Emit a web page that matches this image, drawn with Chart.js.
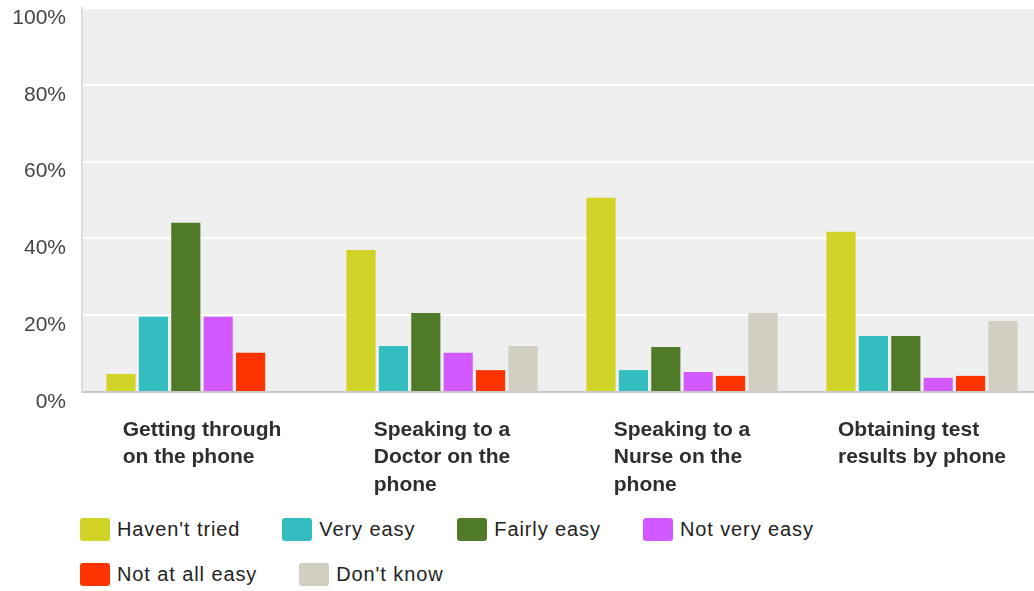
<!DOCTYPE html>
<html>
<head>
<meta charset="utf-8">
<script src="https://cdn.jsdelivr.net/npm/chart.js@4/dist/chart.umd.min.js"></script>
<style>
    html, body { margin: 0; padding: 0; background: #fff; overflow: hidden; }
    #wrap { position: relative; width: 1042px; height: 505px; }
    #legend {
        position: absolute; left: 80px; top: 518px; width: 860px;
        display: flex; flex-wrap: wrap; row-gap: 22px;
        font-family: "Liberation Sans", Arial, sans-serif; font-size: 20px;
        letter-spacing: 0.9px; color: #222;
    }
    .item { display: flex; align-items: center; margin-right: 42px; height: 23px; }
    .box { width: 30px; height: 23px; border-radius: 3px; margin-right: 7px; }
</style>
</head>
<body>
<div id="wrap"><canvas id="chart"></canvas></div>
<div id="legend"></div>
<script>
const categories = [
    ['Getting through', 'on the phone'],
    ['Speaking to a', 'Doctor on the', 'phone'],
    ['Speaking to a', 'Nurse on the', 'phone'],
    ['Obtaining test', 'results by phone']
];
const seriesNames = ["Haven't tried", 'Very easy', 'Fairly easy', 'Not very easy', 'Not at all easy', "Don't know"];
const seriesColors = ['#d1d426', '#33bdc0', '#507c2a', '#d258ff', '#ff3300', '#d0cfc2'];

const havenTried = [4.7, 37.0, 50.6, 41.7];
const veryEasy = [19.6, 12.0, 5.7, 14.6];
const fairlyEasy = [44.1, 20.6, 11.7, 14.6];
const notVeryEasy = [19.6, 10.2, 5.2, 3.7];
const notAtAllEasy = [10.2, 5.7, 4.2, 4.2];
const dontKnow = [0, 12.0, 20.6, 18.5];

const yTicks = [0, 20, 40, 60, 80, 100];

const seriesData = [havenTried, veryEasy, fairlyEasy, notVeryEasy, notAtAllEasy, dontKnow];

// grey plot background
const plotBg = {
    id: 'plotBg',
    beforeDraw(chart) {
        const { ctx, chartArea: a } = chart;
        ctx.save();
        ctx.fillStyle = '#efefef';
        ctx.fillRect(a.left, a.top, a.right - a.left, a.bottom - a.top);
        ctx.restore();
    }
};

// category labels: left aligned blocks centred on each category
const blockLabels = {
    id: 'blockLabels',
    afterDraw(chart) {
        const { ctx } = chart;
        const x = chart.scales.x;
        ctx.save();
        ctx.font = 'bold 21px "Liberation Sans", Arial, sans-serif';
        ctx.fillStyle = '#2e2e2e';
        ctx.textBaseline = 'middle';
        ctx.textAlign = 'left';
        categories.forEach((lines, i) => {
            const cx = x.getPixelForValue(i);
            const w = Math.max(...lines.map(l => ctx.measureText(l).width));
            lines.forEach((l, k) => {
                ctx.fillText(l, cx - w / 2, x.top + 38 + k * 27.5);
            });
        });
        ctx.restore();
    }
};

new Chart(document.getElementById('chart'), {
    type: 'bar',
    data: {
        labels: categories.map(c => c.join(' ')),
        datasets: seriesNames.map((name, i) => ({
            label: name,
            data: seriesData[i],
            backgroundColor: seriesColors[i],
            barPercentage: 0.9,
            categoryPercentage: 0.81
        }))
    },
    options: {
        responsive: true,
        maintainAspectRatio: false,
        animation: false,
        layout: { padding: { top: 8, right: 0, left: 0, bottom: 0 } },
        plugins: {
            legend: { display: false },
            tooltip: { enabled: false }
        },
        scales: {
            x: {
                grid: { display: false },
                border: { color: '#c8c8c8', width: 2 },
                ticks: { display: false },
                afterFit(scale) { scale.height = 113; scale.paddingLeft = 0; scale.paddingRight = 0; }
            },
            y: {
                min: 0,
                max: 100,
                afterBuildTicks(scale) { scale.ticks = yTicks.map(v => ({ value: v })); },
                afterFit(scale) { scale.width = 82; scale.paddingTop = 0; scale.paddingBottom = 0; },
                grid: { color: '#ffffff', lineWidth: 2, drawTicks: false },
                border: { color: '#dddddd', width: 2 },
                ticks: {
                    padding: 16,
                    labelOffset: 10,
                    color: '#444',
                    font: { family: '"Liberation Sans", Arial, sans-serif', size: 21 },
                    callback: v => v + '%'
                }
            }
        }
    },
    plugins: [plotBg, blockLabels]
});

// legend
const legend = document.getElementById('legend');
seriesNames.forEach((name, i) => {
    const item = document.createElement('div');
    item.className = 'item';
    item.innerHTML = `<span class="box" style="background:${seriesColors[i]}"></span><span>${name}</span>`;
    legend.appendChild(item);
});
</script>
</body>
</html>
